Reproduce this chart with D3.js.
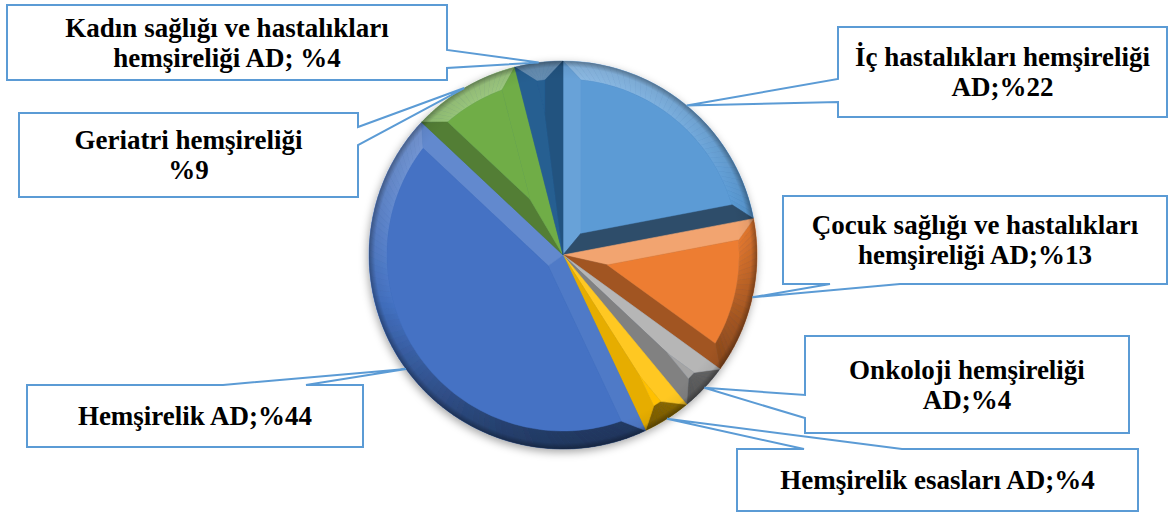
<!DOCTYPE html>
<html>
<head>
<meta charset="utf-8">
<script src="https://cdn.jsdelivr.net/npm/d3@7"></script>
<style>
  html, body { margin: 0; padding: 0; background: #fff; }
  svg { display: block; }
  .lbl { font-family: "Liberation Serif", "Times New Roman", serif; font-weight: bold; font-size: 27px; fill: #000; }
</style>
</head>
<body>
<div id="chart"></div>
<script>
// data
var categories = ["İç hastalıkları hemşireliği AD", "Çocuk sağlığı ve hastalıkları hemşireliği AD",
  "Onkoloji hemşireliği AD", "Hemşirelik esasları AD", "Hemşirelik AD",
  "Geriatri hemşireliği", "Kadın sağlığı ve hastalıkları hemşireliği AD"];
var values = [22, 13, 4, 4, 44, 9, 4];
var labelLines = [
  ["İç hastalıkları hemşireliği", "AD;%22"],
  ["Çocuk sağlığı ve hastalıkları", "hemşireliği AD;%13"],
  ["Onkoloji hemşireliği", "AD;%4"],
  ["Hemşirelik esasları AD;%4"],
  ["Hemşirelik AD;%44"],
  ["Geriatri hemşireliği", "%9"],
  ["Kadın sağlığı ve hastalıkları", "hemşireliği AD; %4"]
];
var colors = ["#5B9BD5", "#ED7D31", "#A5A5A5", "#FFC000", "#4472C4", "#70AD47", "#255E91"];

// callout boxes: [x0, y0, x1, y1], side of the pointer and where it leaves the box
var callouts = [
  {box: [838, 27, 1167, 117], side: "left", base: [79, 102]},
  {box: [783, 196, 1167, 284], side: "bottom", base: [830, 900]},
  {box: [805, 336, 1129, 433], side: "left", base: [395, 418]},
  {box: [737, 449, 1138, 511], side: "top", base: [804, 902]},
  {box: [27, 385, 363, 447], side: "top", base: [223, 306]},
  {box: [19, 113, 358, 197], side: "right", base: [127, 145]},
  {box: [7, 5, 447, 80], side: "right", base: [50, 68]}
];

var W = 1170, H = 514;
var cx = 563, cy = 255, R = 194, bevel = 18;

var svg = d3.select("#chart").append("svg")
  .attr("width", W)
  .attr("height", H);

var defs = svg.append("defs");
var f = defs.append("filter").attr("id", "shadow")
  .attr("x", "-20%").attr("y", "-20%").attr("width", "140%").attr("height", "140%");
f.append("feDropShadow").attr("dx", -1).attr("dy", 3).attr("stdDeviation", 4)
  .attr("flood-color", "#000").attr("flood-opacity", 0.35);

// darkening right at the rim
var rg = defs.append("radialGradient").attr("id", "rim")
  .attr("gradientUnits", "userSpaceOnUse")
  .attr("cx", cx).attr("cy", cy).attr("r", R);
rg.append("stop").attr("offset", (R - bevel) / R).attr("stop-color", "#000").attr("stop-opacity", 0);
rg.append("stop").attr("offset", (R - 6) / R).attr("stop-color", "#000").attr("stop-opacity", 0.05);
rg.append("stop").attr("offset", 1).attr("stop-color", "#000").attr("stop-opacity", 0.35);

var pie = d3.pie().sort(null).value(function(d) { return d; });
var arcs = pie(values);

function pt(r, a) { return [cx + r * Math.sin(a), cy - r * Math.cos(a)]; }

// light coming mostly from above
var L = [-0.25, -1], lm = Math.hypot(L[0], L[1]);
L = [L[0] / lm, L[1] / lm];
function shade(base, n) {
  var k = n[0] * L[0] + n[1] * L[1];
  if (k >= 0) return d3.interpolateRgb(base, "#fff")(k * 0.3);
  return d3.interpolateRgb(base, "#000")(-k * 0.5);
}

var pieG = svg.append("g").attr("filter", "url(#shadow)");

// base disc so the shadow follows the whole pie
pieG.append("circle").attr("cx", cx).attr("cy", cy).attr("r", R).attr("fill", "#3a5f9a");

var line = d3.line();

arcs.forEach(function(d, i) {
  var base = colors[i];
  var a0 = d.startAngle, a1 = d.endAngle;
  var mid = (a0 + a1) / 2, half = (a1 - a0) / 2;
  var Ri = R - bevel;
  var ds = Math.asin(bevel / Ri);
  var phiS = a0 + ds, phiE = a1 - ds;
  var apexD = bevel / Math.sin(half);
  if (phiS > phiE) { phiS = phiE = mid; }
  if (apexD > Ri) apexD = Ri;
  var P0 = pt(apexD, mid);
  var g = pieG.append("g");

  // outer rim facet in small pieces
  var n = Math.max(2, Math.ceil((a1 - a0) / (Math.PI / 90)));
  for (var j = 0; j < n; j++) {
    var t0 = a0 + (a1 - a0) * j / n, t1 = a0 + (a1 - a0) * (j + 1) / n;
    var s0 = phiS + (phiE - phiS) * j / n, s1 = phiS + (phiE - phiS) * (j + 1) / n;
    var tm = (t0 + t1) / 2;
    var c = shade(base, [Math.sin(tm), -Math.cos(tm)]);
    g.append("path")
      .attr("d", line([pt(R, t0), pt(R, t1), pt(Ri, s1), pt(Ri, s0)]) + "Z")
      .attr("fill", c).attr("stroke", c).attr("stroke-width", 0.6);
  }

  // side facets along the radii
  var nS = [-Math.cos(a0), -Math.sin(a0)];
  var nE = [Math.cos(a1), Math.sin(a1)];
  var cS = shade(base, nS), cE = shade(base, nE);
  g.append("path")
    .attr("d", line([[cx, cy], pt(R, a0), pt(Ri, phiS), P0]) + "Z")
    .attr("fill", cS).attr("stroke", cS).attr("stroke-width", 0.6);
  g.append("path")
    .attr("d", line([[cx, cy], pt(R, a1), pt(Ri, phiE), P0]) + "Z")
    .attr("fill", cE).attr("stroke", cE).attr("stroke-width", 0.6);

  // flat top face
  var face = [P0];
  var m = Math.max(2, Math.ceil((phiE - phiS) / (Math.PI / 90)));
  for (var k = 0; k <= m; k++) face.push(pt(Ri, phiS + (phiE - phiS) * k / m));
  g.append("path")
    .attr("d", line(face) + "Z")
    .attr("fill", base).attr("stroke", base).attr("stroke-width", 0.4);
});

svg.append("circle").attr("cx", cx).attr("cy", cy).attr("r", R)
  .attr("fill", "url(#rim)");

// callouts
function calloutPath(c, tip) {
  var x0 = c.box[0], y0 = c.box[1], x1 = c.box[2], y1 = c.box[3];
  var a = c.base[0], b = c.base[1];
  var p = [[x0, y0]];
  if (c.side === "top") p.push([a, y0], tip, [b, y0]);
  p.push([x1, y0]);
  if (c.side === "right") p.push([x1, a], tip, [x1, b]);
  p.push([x1, y1]);
  if (c.side === "bottom") p.push([b, y1], tip, [a, y1]);
  p.push([x0, y1]);
  if (c.side === "left") p.push([x0, b], tip, [x0, a]);
  return line(p) + "Z";
}

var labels = svg.append("g");
arcs.forEach(function(d, i) {
  var c = callouts[i];
  var tip = pt(R, (d.startAngle + d.endAngle) / 2);
  var g = labels.append("g");
  g.append("path")
    .attr("d", calloutPath(c, tip))
    .attr("fill", "#fff")
    .attr("stroke", "#5B9BD5")
    .attr("stroke-width", 2)
    .attr("stroke-linejoin", "miter");
  var xc = (c.box[0] + c.box[2]) / 2, yc = (c.box[1] + c.box[3]) / 2;
  var lines = labelLines[i];
  lines.forEach(function(t, k) {
    g.append("text")
      .attr("class", "lbl")
      .attr("x", xc)
      .attr("y", yc + (k - (lines.length - 1) / 2) * 30 + 9)
      .attr("text-anchor", "middle")
      .text(t);
  });
});
</script>
</body>
</html>
